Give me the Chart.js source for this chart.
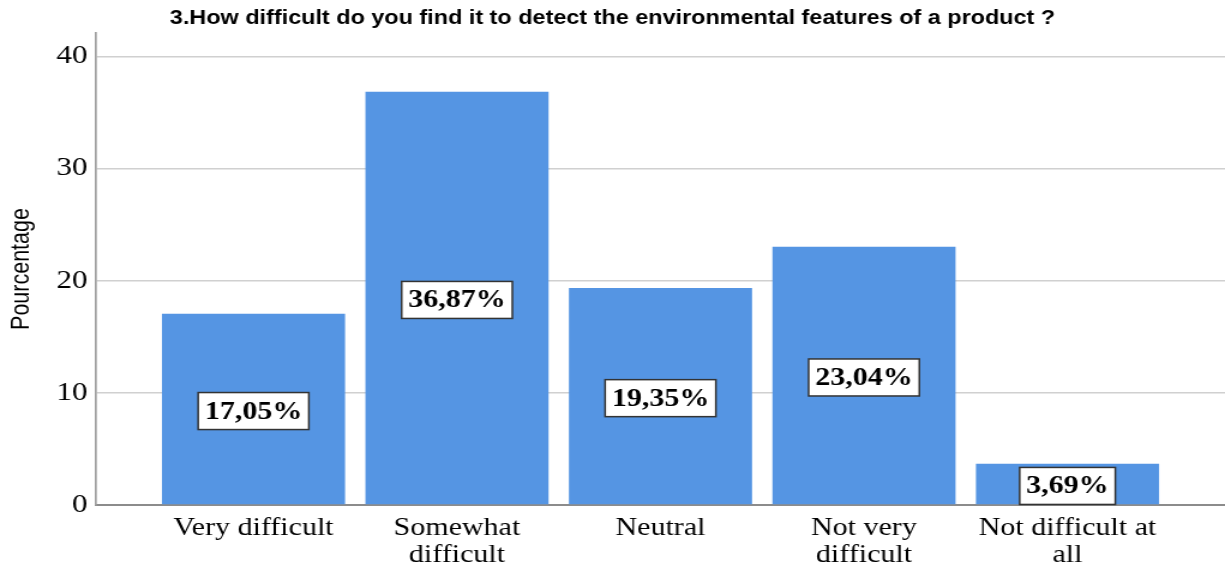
<!DOCTYPE html>
<html>
<head>
<meta charset="utf-8">
<script src="https://cdn.jsdelivr.net/npm/chart.js@4.4.1/dist/chart.umd.min.js"></script>
<style>
  html, body { margin: 0; padding: 0; background: #ffffff; overflow: hidden; }
  /* The chart is laid out on a narrower canvas and widened horizontally */
  #wrap {
    position: absolute; left: 0; top: 0;
    width: 1021px; height: 569px;
    transform: scaleX(1.1998); transform-origin: 0 0;
  }
</style>
</head>
<body>
<div id="wrap"><canvas id="chart"></canvas></div>
<script>
const titleText = '3.How difficult do you find it to detect the environmental features of a product ?';
const axisTitle = 'Pourcentage';
const categories = [
  ['Very difficult'],
  ['Somewhat', 'difficult'],
  ['Neutral'],
  ['Not very', 'difficult'],
  ['Not difficult at', 'all']
];
const percentages = [17.05, 36.87, 19.35, 23.04, 3.69];
const yTicks = [0, 10, 20, 30, 40];

const SERIF = '"Liberation Serif", "Times New Roman", serif';
const SANS = '"Liberation Sans", Arial, sans-serif';

// White boxed percentage label in the middle of each bar
const valueBoxes = {
  id: 'valueBoxes',
  afterDatasetsDraw(chart) {
    const ctx = chart.ctx;
    const meta = chart.getDatasetMeta(0);
    const data = chart.data.datasets[0].data;
    ctx.save();
    ctx.font = 'bold 25px ' + SERIF;
    ctx.textAlign = 'center';
    ctx.textBaseline = 'middle';
    meta.data.forEach((bar, i) => {
      const txt = data[i].y.toFixed(2).replace('.', ',') + '%';
      const cx = bar.x;
      const cy = (bar.y + bar.base) / 2 + 2;
      const w = ctx.measureText(txt).width + 11;
      const h = 37;
      ctx.fillStyle = '#ffffff';
      ctx.fillRect(cx - w / 2, cy - h / 2, w, h);
      ctx.strokeStyle = '#333333';
      ctx.lineWidth = 1.5;
      ctx.strokeRect(cx - w / 2, cy - h / 2, w, h);
      ctx.fillStyle = '#000000';
      ctx.fillText(txt, cx, cy + 1);
    });
    ctx.restore();
  }
};

new Chart(document.getElementById('chart'), {
  type: 'bar',
  data: {
    datasets: [{
      data: percentages.map((v, i) => ({ x: i, y: v })),
      backgroundColor: '#5595e3',
      borderWidth: 0,
      categoryPercentage: 0.9,
      barPercentage: 1.0
    }]
  },
  options: {
    responsive: true,
    maintainAspectRatio: false,
    animation: false,
    layout: { padding: 0 },
    plugins: {
      legend: { display: false },
      tooltip: { enabled: false },
      title: {
        display: true,
        text: titleText,
        color: '#000000',
        font: { family: SANS, size: 19.5, weight: 'bold' },
        padding: { top: 7, bottom: 2.6 }
      }
    },
    scales: {
      x: {
        type: 'linear',
        min: -0.774,
        max: 4.774,
        offset: false,
        grid: { display: false, drawTicks: false },
        border: { display: true, color: '#8c8c8c', width: 2 },
        afterBuildTicks: s => { s.ticks = categories.map((_, i) => ({ value: i })); },
        afterFit: s => { s.height = 64; },
        ticks: {
          color: '#000000',
          padding: 10,
          autoSkip: false,
          maxRotation: 0,
          font: { family: SERIF, size: 25, lineHeight: 1.08 },
          callback: v => categories[v]
        }
      },
      y: {
        min: 0,
        max: 42.1,
        afterBuildTicks: s => { s.ticks = yTicks.map(v => ({ value: v })); },
        afterFit: s => { s.width = 80; },
        grid: { color: '#d0d0d0', lineWidth: 1.5, drawTicks: false },
        border: { display: true, color: '#a0a0a0', width: 1.7 },
        ticks: {
          color: '#000000',
          padding: 7,
          font: { family: SERIF, size: 26 }
        },
        title: {
          display: true,
          text: axisTitle,
          color: '#000000',
          font: { family: SANS, size: 21.5 },
          padding: { top: 5, bottom: 0 }
        }
      }
    }
  },
  plugins: [valueBoxes]
});
</script>
</body>
</html>
